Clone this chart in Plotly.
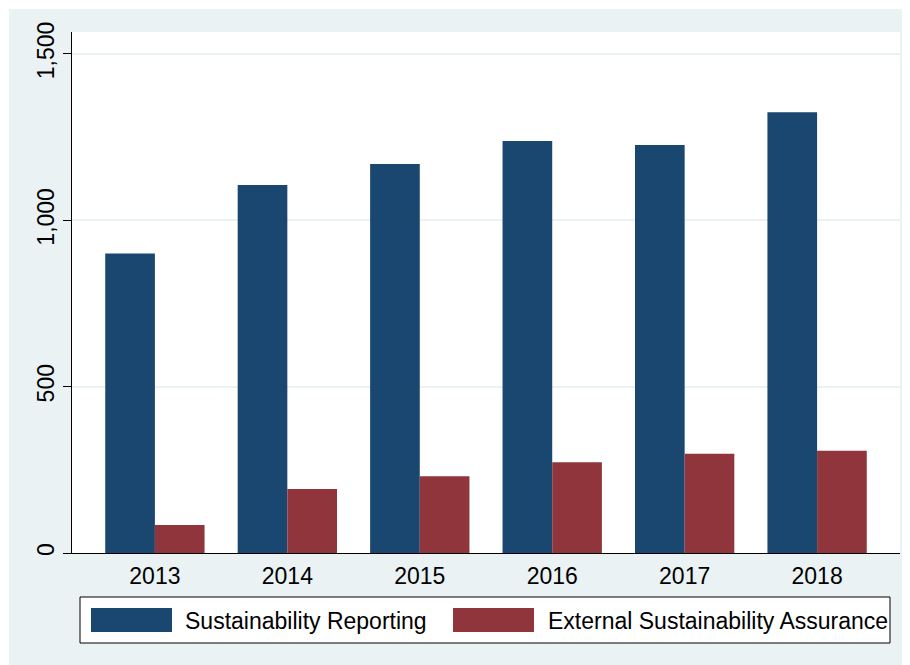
import plotly.graph_objects as go

years = ["2013", "2014", "2015", "2016", "2017", "2018"]
reporting = [900, 1106, 1169, 1238, 1226, 1325]
assurance = [84, 192, 231, 273, 298, 307]
series_names = ["Sustainability Reporting", "External Sustainability Assurance"]
y_ticks = [0, 500, 1000, 1500]

BLUE = "#1A476F"
RED = "#90353B"
BG = "#EAF2F3"
FONT = "Liberation Sans, Arial, sans-serif"

fig = go.Figure()
fig.add_trace(go.Bar(x=years, y=reporting, name=series_names[0], marker=dict(color=BLUE, line=dict(width=0))))
fig.add_trace(go.Bar(x=years, y=assurance, name=series_names[1], marker=dict(color=RED, line=dict(width=0))))

OFF = 8  # page body margin
W, H = 902, 657
L, T = 72 - OFF, 32 - OFF
R = W - (900 - OFF)
B = H - (553 - OFF)
pw = W - L - R
ph = H - T - B

def px_x(p):
    return (p - OFF - L) / pw

def px_y(p):
    return (H - B - (p - OFF)) / ph

shapes = [
    dict(type="rect", xref="paper", yref="paper", x0=px_x(9), x1=px_x(930), y0=px_y(680), y1=px_y(9),
         fillcolor=BG, line=dict(width=0), layer="below"),
    dict(type="rect", xref="paper", yref="paper", x0=0, x1=1, y0=0, y1=1,
         fillcolor="white", line=dict(width=0), layer="below"),
    # legend box
    dict(type="rect", xref="paper", yref="paper", x0=px_x(80), x1=px_x(890), y0=px_y(643), y1=px_y(597),
         fillcolor="white", line=dict(color="black", width=1)),
    dict(type="rect", xref="paper", yref="paper", x0=px_x(91), x1=px_x(172), y0=px_y(632), y1=px_y(608),
         fillcolor=BLUE, line=dict(width=0)),
    dict(type="rect", xref="paper", yref="paper", x0=px_x(453), x1=px_x(534), y0=px_y(632), y1=px_y(608),
         fillcolor=RED, line=dict(width=0)),
]
annotations = [
    dict(xref="paper", yref="paper", x=px_x(183), y=px_y(621), text=series_names[0], showarrow=False,
         xanchor="left", yanchor="middle", font=dict(family=FONT, size=23, color="black")),
    dict(xref="paper", yref="paper", x=px_x(546), y=px_y(621), text=series_names[1], showarrow=False,
         xanchor="left", yanchor="middle", font=dict(family=FONT, size=23, color="black")),
]

fig.update_layout(
    width=W, height=H,
    margin=dict(l=L, r=R, t=T, b=B),
    paper_bgcolor="white",
    plot_bgcolor="white",
    barmode="group",
    bargap=0.25,
    bargroupgap=0,
    showlegend=False,
    shapes=shapes,
    annotations=annotations,
    font=dict(family=FONT, size=23, color="black"),
)
fig.update_xaxes(
    range=[-0.626, 5.626], showgrid=False, showline=True, linecolor="black", linewidth=1,
    ticks="", tickfont=dict(size=23, family=FONT), ticklabelstandoff=2,
)
fig.update_yaxes(
    range=[0, 1566], tickvals=y_ticks, tickformat=",", showgrid=True, gridcolor=BG, gridwidth=1.5,
    showline=True, linecolor="black", linewidth=1, ticks="outside", ticklen=8, tickcolor="black",
    tickangle=-90, tickfont=dict(size=23, family=FONT), zeroline=False, ticklabelstandoff=0,
)

fig.write_html("out.html")
